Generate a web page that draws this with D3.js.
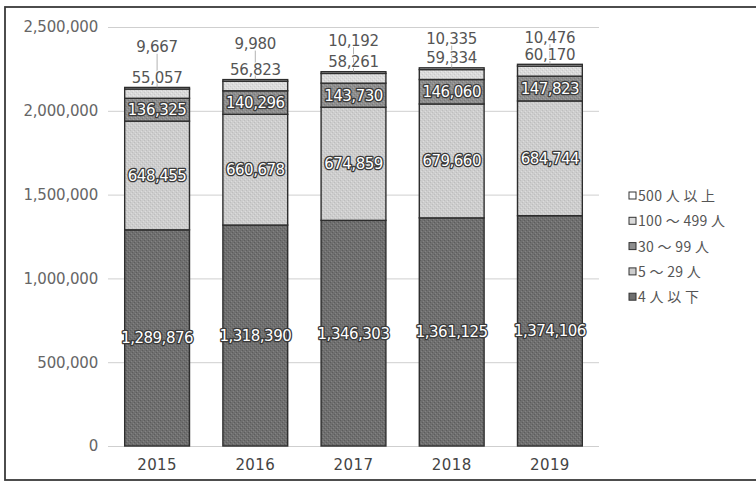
<!DOCTYPE html>
<html>
<head>
<meta charset="utf-8">
<script src="https://cdn.jsdelivr.net/npm/d3@7"></script>
<style>
  html, body { margin: 0; padding: 0; background: #fff; }
  svg { display: block; }
</style>
</head>
<body>
<svg id="chart" width="756" height="483"></svg>
<script>
// Establishments by number of persons engaged, 2015–2019
const years = ["2015", "2016", "2017", "2018", "2019"];
const under4 = [1289876, 1318390, 1346303, 1361125, 1374106];
const from5to29 = [648455, 660678, 674859, 679660, 684744];
const from30to99 = [136325, 140296, 143730, 146060, 147823];
const from100to499 = [55057, 56823, 58261, 59334, 60170];
const over500 = [9667, 9980, 10192, 10335, 10476];
const seriesKeys = ["under4", "from5to29", "from30to99", "from100to499", "over500"];
const seriesNames = ["4 人 以 下", "5 ～ 29 人", "30 ～ 99 人", "100 ～ 499 人", "500 人 以 上"];
const yTicks = [0, 500000, 1000000, 1500000, 2000000, 2500000];

const svg = d3.select("#chart");

// outer frame (its right side runs past the page edge)
svg.append("rect")
  .attr("x", 5).attr("y", 7).attr("width", 780).attr("height", 473)
  .attr("fill", "none").attr("stroke", "#3a3a3a").attr("stroke-width", 1.8);

const rows = years.map((yr, i) => ({
  year: yr,
  under4: under4[i],
  from5to29: from5to29[i],
  from30to99: from30to99[i],
  from100to499: from100to499[i],
  over500: over500[i]
}));

const plotLeft = 108, plotRight = 599;
const x = d3.scaleBand().domain(years).range([plotLeft, plotRight])
  .paddingInner(0.34).paddingOuter(0.17);
const y = d3.scaleLinear().domain([0, 2500000]).range([446, 27]);

// textured fills
const baseColors = {
  under4: ["#6f6f6f", "#5c5c5c", "#838383"],
  from5to29: ["#cdcdcd", "#bdbdbd", "#dcdcdc"],
  from30to99: ["#8e8e8e", "#7b7b7b", "#a2a2a2"],
  from100to499: ["#dadada", "#c9c9c9", "#e8e8e8"],
  over500: ["#f4f4f4", "#e6e6e6", "#ffffff"]
};
const defs = svg.append("defs");
seriesKeys.forEach(k => {
  const [base, dark, light] = baseColors[k];
  const p = defs.append("pattern").attr("id", "pat-" + k)
    .attr("patternUnits", "userSpaceOnUse").attr("width", 4).attr("height", 4);
  p.append("rect").attr("width", 4).attr("height", 4).attr("fill", base);
  [[0, 0], [2, 2]].forEach(([a, b]) => p.append("rect").attr("x", a).attr("y", b)
    .attr("width", 1).attr("height", 1).attr("fill", dark));
  [[1, 3], [3, 1]].forEach(([a, b]) => p.append("rect").attr("x", a).attr("y", b)
    .attr("width", 1).attr("height", 1).attr("fill", light));
});

const font = "'DejaVu Sans', sans-serif";

// gridlines + value axis
const yAxis = d3.axisLeft(y).tickValues(yTicks)
  .tickSize(-(plotRight - plotLeft)).tickPadding(10)
  .tickFormat(d3.format(","));
const gy = svg.append("g").attr("transform", `translate(${plotLeft},0)`).call(yAxis);
gy.select(".domain").remove();
gy.selectAll(".tick line").attr("stroke", "#cfcfcf").attr("stroke-width", 1);
gy.selectAll(".tick text")
  .attr("fill", "#666").attr("font-family", font)
  .attr("font-size", 15).attr("letter-spacing", -0.2);

// year axis
const xAxis = d3.axisBottom(x).tickSize(0).tickPadding(10);
const gx = svg.append("g").attr("transform", `translate(0,${y(0)})`).call(xAxis);
gx.select(".domain").remove();
gx.selectAll(".tick text")
  .attr("fill", "#444").attr("font-family", font)
  .attr("font-size", 15).attr("letter-spacing", 0.4).attr("dy", "0.9em");

// stacked bars
const stacked = d3.stack().keys(seriesKeys)(rows);
const layers = svg.append("g").selectAll("g").data(stacked).join("g")
  .attr("fill", d => `url(#pat-${d.key})`);
layers.selectAll("rect").data(d => d).join("rect")
  .attr("x", d => x(d.data.year))
  .attr("width", x.bandwidth())
  .attr("y", d => y(d[1]))
  .attr("height", d => y(d[0]) - y(d[1]))
  .attr("stroke", "#2e2e2e").attr("stroke-width", 1.4);

const fmt = d3.format(",");

// labels inside the three lower segments (white with dark halo)
const inside = svg.append("g");
stacked.slice(0, 3).forEach(layer => {
  inside.selectAll(null).data(layer).join("text")
    .attr("x", d => x(d.data.year) + x.bandwidth() / 2)
    .attr("y", d => (y(d[0]) + y(d[1])) / 2)
    .attr("dy", "0.36em")
    .attr("text-anchor", "middle")
    .attr("font-family", font).attr("font-size", 15).attr("letter-spacing", -0.5)
    .attr("fill", "#fff").attr("stroke", "#3a3a3a").attr("stroke-width", 2.6)
    .attr("stroke-linejoin", "round").attr("paint-order", "stroke")
    .text(d => fmt(d.data[layer.key]));
});

// labels above the bars for the two top segments, with leader lines
const above = svg.append("g");
rows.forEach(r => {
  const cx = x(r.year) + x.bandwidth() / 2;
  const total = r.under4 + r.from5to29 + r.from30to99 + r.from100to499 + r.over500;
  const top = y(total);
  const y100 = top - 10;
  const y500 = 37 + 0.42 * (top - 64);
  above.append("line")
    .attr("x1", cx).attr("x2", cx).attr("y1", y500 + 7).attr("y2", top)
    .attr("stroke", "#a0a0a0").attr("stroke-width", 0.8);
  [[y100, r.from100to499], [y500, r.over500]].forEach(([ty, v]) => {
    above.append("text").attr("x", cx).attr("y", ty).attr("dy", "0.36em")
      .attr("text-anchor", "middle").attr("font-family", font).attr("font-size", 15)
      .attr("letter-spacing", -0.3)
      .attr("fill", "#555").attr("stroke", "#fff").attr("stroke-width", 2)
      .attr("paint-order", "stroke")
      .text(fmt(v));
  });
});

// legend, largest size class first
const legend = svg.append("g").attr("transform", "translate(629,196)");
const legendItems = seriesKeys.map((k, i) => ({ key: k, name: seriesNames[i] })).reverse();
const li = legend.selectAll("g").data(legendItems).join("g")
  .attr("transform", (d, i) => `translate(0,${i * 25.3})`);
li.append("rect").attr("x", 0).attr("y", -4).attr("width", 7).attr("height", 7)
  .attr("fill", d => d.key === "over500" ? "#fff" : baseColors[d.key][0])
  .attr("stroke", "#333").attr("stroke-width", 1);
li.append("text").attr("x", 9).attr("y", 0).attr("dy", "0.36em")
  .attr("font-family", "'Noto Sans CJK JP', sans-serif").attr("font-size", 14)
  .attr("letter-spacing", 0.3)
  .attr("fill", "#555")
  .text(d => d.name);
</script>
</body>
</html>
